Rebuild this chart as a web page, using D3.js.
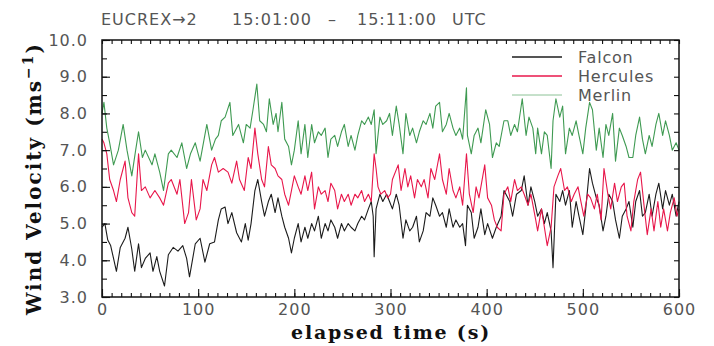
<!DOCTYPE html>
<html><head><meta charset="utf-8">
<script src="https://cdn.jsdelivr.net/npm/d3@7"></script>
<style>
body{margin:0;background:#fff;}
svg{display:block;}
</style></head>
<body>
<svg id="chart" width="714" height="346"></svg>
<script>
const titleParts = ["EUCREX\u21922", "15:01:00", "\u2013", "15:11:00", "UTC"];
const seriesNames = ["Falcon", "Hercules", "Merlin"];
const xTickValues = [0, 100, 200, 300, 400, 500, 600];
const yTickValues = [3, 4, 5, 6, 7, 8, 9, 10];
const xLabel = "elapsed time (s)";
const yLabel = "Wind Velocity (ms";

const falconT = [0,3,6,9,12,15,19,24,27,31,34,38,41,45,50,53,57,60,65,69,74,79,84,88,91,97,102,107,112,117,121,124,128,131,135,140,145,149,152,155,159,162,166,169,173,176,180,183,187,190,194,197,200,204,207,211,214,218,221,225,228,232,235,238,242,245,249,252,256,259,263,266,270,273,277,280,282,283,285,289,292,296,299,302,306,309,313,316,320,323,327,330,334,337,341,344,347,351,354,358,361,365,368,372,375,378,380,384,387,391,394,398,401,406,410,415,418,424,427,431,436,439,443,446,450,453,457,460,463,467,469,472,476,479,482,486,489,493,496,500,503,507,510,514,517,521,524,527,531,534,538,541,545,548,552,555,559,562,565,569,572,576,579,583,586,590,593,597,600];
const falconV = [4.9,5.0,4.55,4.4,4.05,3.7,4.35,4.6,4.9,4.3,3.7,4.45,3.8,4.05,4.2,3.7,4.1,3.7,3.3,4.15,4.35,4.25,4.4,4.05,3.55,4.45,4.6,3.95,4.45,4.5,5.1,5.4,5.45,5.0,5.3,4.75,4.5,5.0,4.55,5.0,5.9,6.2,5.6,5.2,5.6,5.8,5.3,5.7,5.2,4.9,4.6,4.2,4.6,5.0,4.5,4.9,4.6,5.0,4.8,5.2,4.6,5.0,4.8,5.1,4.9,4.6,5.0,4.8,5.0,4.9,4.8,5.0,5.2,5.1,5.4,5.6,5.2,4.1,5.4,5.8,5.6,5.8,5.6,5.4,5.8,5.5,4.6,5.1,4.8,4.9,5.2,4.5,4.8,5.3,5.2,5.7,5.5,5.2,5.3,4.9,5.4,4.9,5.1,4.9,5.0,4.4,5.5,5.3,4.6,4.9,5.4,4.7,5.0,4.6,4.9,5.2,5.9,5.6,5.2,5.8,5.9,6.3,5.5,6.0,5.6,5.2,5.4,5.0,5.3,4.8,3.8,5.8,5.6,5.9,5.5,5.9,4.9,5.6,5.2,4.7,5.4,6.5,6.1,5.7,5.5,4.8,5.2,5.8,5.6,5.1,4.6,5.2,5.4,5.6,4.9,5.6,5.9,5.2,5.3,5.8,5.2,5.8,6.1,5.4,5.9,5.5,5.8,5.2,5.6];

const herculesT = [0,2,5,8,12,15,19,24,27,31,34,38,41,45,50,55,60,64,69,72,78,81,86,90,93,98,102,105,109,114,117,121,126,131,135,140,143,148,152,155,159,162,166,169,173,176,180,183,187,190,194,197,200,204,207,211,214,218,221,225,228,232,235,238,242,245,249,252,256,259,263,266,270,273,277,280,283,285,287,290,294,297,300,302,308,311,315,318,321,325,328,332,335,339,342,346,351,354,358,361,365,368,372,375,379,382,386,389,392,398,401,405,408,411,415,418,422,425,429,432,436,439,443,446,451,453,457,460,463,467,470,474,477,481,484,488,491,495,498,501,505,508,512,515,519,522,526,529,533,536,540,543,546,550,553,557,560,564,567,571,574,578,581,584,588,591,595,598,600];
const herculesV = [7.3,7.2,6.9,6.2,5.9,5.6,6.2,6.7,5.7,5.3,5.2,6.9,5.9,6.0,5.7,5.9,5.7,5.5,6.1,6.2,5.8,6.2,5.0,5.3,6.2,5.1,5.4,6.2,5.9,6.6,6.8,6.4,6.5,6.4,6.1,6.7,6.2,5.9,6.8,6.5,7.6,6.9,6.2,6.0,7.1,6.6,6.5,6.3,6.2,5.8,5.5,5.9,6.3,6.0,5.8,6.3,5.9,6.4,5.4,6.0,5.8,5.9,5.6,6.1,5.9,5.4,5.8,5.6,5.8,5.5,5.8,5.7,5.9,5.6,5.8,5.6,6.9,6.5,6.0,5.8,5.9,5.7,5.8,6.2,6.6,5.9,6.5,6.0,6.3,5.7,6.2,6.0,6.2,5.7,6.5,6.2,6.9,6.2,5.8,6.5,5.9,5.7,6.0,5.5,6.9,5.8,5.3,6.0,5.7,6.6,5.7,5.5,5.1,4.9,4.8,5.8,6.0,5.6,6.2,5.9,6.0,5.8,5.5,5.8,5.1,4.8,5.4,4.9,4.4,4.9,6.0,6.3,6.5,5.9,6.0,5.6,5.8,6.0,5.6,5.2,5.8,5.7,5.4,5.8,5.1,6.5,5.8,5.4,6.1,5.6,6.0,6.1,5.2,4.8,5.6,6.2,6.4,5.4,4.7,5.4,4.8,5.6,4.9,5.4,4.8,5.3,5.7,5.2,5.4];

const merlinT = [0,2,5,8,12,17,22,26,31,35,38,42,45,52,55,60,64,69,72,78,83,88,92,97,102,109,114,118,121,124,128,133,136,142,147,150,154,157,161,164,168,171,174,178,181,183,187,190,194,197,200,204,207,211,214,218,221,225,228,232,235,238,242,245,249,252,256,259,263,266,270,273,277,280,283,285,289,292,296,299,302,306,309,313,316,320,323,327,330,334,337,341,344,347,351,354,358,361,365,368,372,375,379,380,384,387,391,394,399,403,406,410,413,418,422,425,429,432,437,441,444,448,451,453,457,460,463,467,469,472,476,479,482,486,489,493,496,500,503,507,510,514,517,521,524,527,531,534,538,541,545,548,552,555,559,562,565,569,572,576,579,583,586,590,593,597,600];
const merlinV = [8.0,8.3,7.6,7.2,6.6,7.0,7.7,7.0,6.3,7.0,7.5,6.8,7.0,6.6,6.9,6.4,5.9,6.9,7.0,6.8,7.2,6.5,6.9,7.2,6.7,7.7,7.0,7.3,7.4,7.8,7.9,8.3,7.4,7.7,7.2,7.7,7.6,8.1,8.8,7.8,7.7,7.5,8.4,7.7,8.0,7.5,8.3,7.3,7.1,6.6,7.0,7.8,6.9,7.7,6.8,7.7,7.2,7.5,7.4,7.6,6.8,7.3,7.4,7.1,7.5,7.7,7.1,7.4,7.0,7.4,7.8,7.7,7.9,7.7,8.1,6.9,7.9,7.7,7.8,8.0,7.4,8.2,7.7,6.9,8.0,7.4,7.6,7.2,7.5,7.8,7.7,8.0,7.6,8.2,8.3,7.5,7.7,8.0,7.6,7.4,7.6,7.3,8.7,7.4,6.9,7.4,7.6,7.2,8.1,7.7,6.8,7.2,7.1,7.8,7.8,7.4,7.7,7.5,8.4,7.4,7.9,7.6,6.9,7.6,6.9,7.5,7.4,6.5,7.8,8.4,7.9,8.2,6.9,7.6,7.4,7.8,7.4,6.9,7.6,8.3,8.1,7.0,7.6,6.8,7.7,7.4,8.0,6.7,7.6,7.4,7.1,6.8,6.8,7.4,7.9,7.3,6.9,7.4,7.1,7.7,8.0,7.4,7.8,7.4,7.0,7.2,7.0];

const seriesColors = ["#1c1c1c", "#e8174b", "#3f9a52"];
const seriesT = [falconT, herculesT, merlinT];
const seriesV = [falconV, herculesV, merlinV];

const svg = d3.select("#chart");
const L = 102, R = 679, T = 40, B = 297;
const x = d3.scaleLinear().domain([0, 600]).range([L, R]);
const y = d3.scaleLinear().domain([3, 10]).range([B, T]);

const line = d3.line().x(d => x(d[0])).y(d => y(d[1]));
seriesT.forEach((ts, i) => {
  const pts = ts.map((t, j) => [t, seriesV[i][j]]);
  svg.append("path").datum(pts)
    .attr("d", line).attr("fill", "none")
    .attr("stroke", seriesColors[i]).attr("stroke-width", 1.1)
    .attr("stroke-linejoin", "round");
});

// frame
svg.append("rect").attr("x", L).attr("y", T).attr("width", R - L).attr("height", B - T)
  .attr("fill", "none").attr("stroke", "#111").attr("stroke-width", 1.5);

// minor ticks
const tickStyle = g => { g.select(".domain").remove(); g.selectAll("line").attr("stroke", "#111").attr("stroke-width", 1.1); };
const xMinor = d3.range(0, 601, 10);
const yMinor = d3.range(3, 10.01, 0.5);
svg.append("g").attr("transform", `translate(0,${B})`).call(d3.axisBottom(x).tickValues(xMinor).tickSize(-4).tickFormat("")).call(tickStyle);
svg.append("g").attr("transform", `translate(0,${T})`).call(d3.axisTop(x).tickValues(xMinor).tickSize(-4).tickFormat("")).call(tickStyle);
svg.append("g").attr("transform", `translate(${L},0)`).call(d3.axisLeft(y).tickValues(yMinor).tickSize(-5).tickFormat("")).call(tickStyle);
svg.append("g").attr("transform", `translate(${R},0)`).call(d3.axisRight(y).tickValues(yMinor).tickSize(-5).tickFormat("")).call(tickStyle);

// major ticks with labels
const xAx = svg.append("g").attr("transform", `translate(0,${B})`)
  .call(d3.axisBottom(x).tickValues(xTickValues).tickSize(-8).tickPadding(7).tickFormat(d3.format("d")));
xAx.select(".domain").remove();
xAx.selectAll("line").attr("stroke", "#111").attr("stroke-width", 1.1);
xAx.selectAll("text").attr("font-family", "DejaVu Sans").attr("font-size", 16).attr("fill", "#555").attr("letter-spacing", "1px");

const yAx = svg.append("g").attr("transform", `translate(${L},0)`)
  .call(d3.axisLeft(y).tickValues(yTickValues).tickSize(-8).tickPadding(14).tickFormat(d3.format(".1f")));
yAx.select(".domain").remove();
yAx.selectAll("line").attr("stroke", "#111").attr("stroke-width", 1.1);
yAx.selectAll("text").attr("font-family", "DejaVu Sans").attr("font-size", 16).attr("fill", "#555").attr("letter-spacing", "1px");

// title
const title = svg.append("text").attr("y", 25).attr("font-family", "DejaVu Sans").attr("font-size", 16)
  .attr("fill", "#555").attr("letter-spacing", "1px");
const titleX = [101, 232, 328, 357, 452];
titleParts.forEach((p, i) => title.append("tspan").attr("x", titleX[i]).text(p));

// axis labels
svg.append("text").attr("x", 391).attr("y", 339).attr("text-anchor", "middle")
  .attr("font-family", "DejaVu Serif").attr("font-size", 19).attr("font-weight", "bold")
  .attr("letter-spacing", "1.8px").attr("fill", "#111").text(xLabel);
const yl = svg.append("text").attr("transform", `translate(41,${(T + B) / 2 + 10}) rotate(-90)`)
  .attr("text-anchor", "middle").attr("font-family", "DejaVu Serif").attr("font-size", 20)
  .attr("font-weight", "bold").attr("letter-spacing", "2px").attr("fill", "#111");
yl.append("tspan").text(yLabel);
yl.append("tspan").attr("dy", -8).attr("font-size", 14).text("\u22121");
yl.append("tspan").attr("dy", 8).text(")");

// legend
const legY = [57, 76, 95];
seriesNames.forEach((n, i) => {
  svg.append("line").attr("x1", 512).attr("x2", 562).attr("y1", legY[i]).attr("y2", legY[i])
    .attr("stroke", seriesColors[i]).attr("stroke-width", i === 2 ? 1 : 1.5)
    .attr("stroke-opacity", i === 2 ? 0.6 : 1);
  svg.append("text").attr("x", 578).attr("y", legY[i] + 6).attr("font-family", "DejaVu Sans")
    .attr("font-size", 16).attr("fill", "#555").attr("letter-spacing", "0.8px").text(n);
});
</script>
</body></html>
